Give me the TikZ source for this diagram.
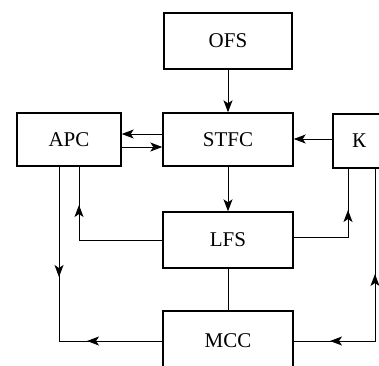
\documentclass[tikz,border=0pt]{standalone}
\usepackage{fontspec}
\setmainfont{Liberation Serif}
\usetikzlibrary{arrows.meta,calc}
\tikzset{
  box/.style={draw, line width=1.4pt, inner sep=0pt, font=\fontsize{21}{24}\selectfont},
  conn/.style={line width=1pt},
  arr/.style={conn, -{Stealth[length=12pt,width=9pt,inset=3pt]}},
}
\begin{document}
\begin{tikzpicture}[x=1pt,y=-1pt]
\useasboundingbox (0,0) rectangle (379,365);
\clip (0,0) rectangle (379,365);
\node[box, minimum width=128pt, minimum height=56pt] (ofs) at (228,41) {OFS};
\node[box, minimum width=130pt, minimum height=53pt] (stfc) at (228,139.5) {STFC};
\node[box, minimum width=104pt, minimum height=53pt] (apc) at (69,139.5) {APC};
\node[box, minimum width=52pt, minimum height=54pt] (k) at (359,141) {К};
\node[box, minimum width=130pt, minimum height=56pt] (lfs) at (228,240) {LFS};
\node[box, minimum width=130pt, minimum height=60pt] (mcc) at (228,341) {MCC};
% vertical chain
\draw[arr] (ofs.south) -- (stfc.north);
\draw[arr] (stfc.south) -- (lfs.north);
\draw[conn] (lfs.south) -- (mcc.north);
% APC <-> STFC
\draw[arr] (stfc.west |- 0,134) -- (apc.east |- 0,134);
\draw[arr] (apc.east |- 0,147) -- (stfc.west |- 0,147);
% K -> STFC
\draw[arr] (k.west |- 0,139) -- (stfc.east |- 0,139);
% left loops
\coordinate (a1) at ($(apc.south)+(10,0)$);
\coordinate (a2) at ($(apc.south)+(-10,0)$);
\draw[conn] (lfs.west) -| (a1);
\draw[arr] (a1 |- lfs.west) -- (a1 |- 0,205);
\draw[conn] (a2) |- (mcc.west);
\draw[arr] (a2) -- (a2 |- 0,277);
\draw[arr] (mcc.west) -- (87,341);
% right loops
\coordinate (k1) at ($(k.south)+(-11,0)$);
\coordinate (k2) at ($(k.south)+(16,0)$);
\draw[conn] (lfs.east |- 0,237) -| (k1);
\draw[arr] (k1 |- 0,237) -- (k1 |- 0,210);
\draw[conn] (k2) |- (mcc.east);
\draw[arr] (k2 |- mcc.east) -- (k2 |- 0,274);
\draw[arr] (k2 |- mcc.east) -- (330,341);
\end{tikzpicture}
\end{document}
